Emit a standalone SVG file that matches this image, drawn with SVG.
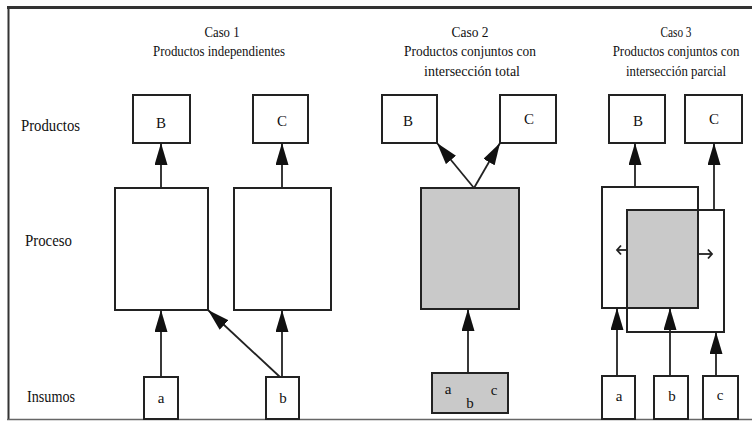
<svg xmlns="http://www.w3.org/2000/svg" width="752" height="421" viewBox="0 0 752 421">
  <defs>
    <marker id="head" viewBox="0 0 22 13" markerWidth="22" markerHeight="13" refX="22" refY="6.5" orient="auto" markerUnits="userSpaceOnUse">
      <path d="M0,0 L22,6.5 L0,13 z" fill="#111"/>
    </marker>
  </defs>
  <style>
    text { font-family: 'Liberation Serif', 'DejaVu Serif', serif; fill: #111; }
    .title { font-size: 15px; text-anchor: middle; }
    .row { font-size: 17px; }
    .lbl { font-size: 15px; text-anchor: middle; }
    .box { fill: #fff; stroke: #222; stroke-width: 2; }
    .gray { fill: #c9c9c9; stroke: #222; stroke-width: 2; }
    .edge { fill: none; stroke: #222; stroke-width: 1.8; }
    .arr { marker-end: url(#head); }
  </style>

  <!-- frame -->
  <g id="frame">
    <rect x="0" y="0" width="752" height="421" fill="#fff"/>
    <line x1="7" y1="7.5" x2="752" y2="7.5" stroke="#333" stroke-width="3"/>
    <line x1="8.5" y1="6" x2="8.5" y2="420" stroke="#333" stroke-width="2"/>
    <line x1="7" y1="419.5" x2="752" y2="419.5" stroke="#666" stroke-width="1.5"/>
  </g>

  <!-- row and column headings -->
  <g id="headings">
    <text class="row" x="21" y="131" textLength="59" lengthAdjust="spacingAndGlyphs">Productos</text>
    <text class="row" x="25" y="246" textLength="47" lengthAdjust="spacingAndGlyphs">Proceso</text>
    <text class="row" x="27" y="402" textLength="48" lengthAdjust="spacingAndGlyphs">Insumos</text>

    <text class="title" x="222" y="37" textLength="35" lengthAdjust="spacingAndGlyphs">Caso 1</text>
    <text class="title" x="219" y="56" textLength="132" lengthAdjust="spacingAndGlyphs">Productos independientes</text>

    <text class="title" x="470" y="37" textLength="37" lengthAdjust="spacingAndGlyphs">Caso 2</text>
    <text class="title" x="470" y="56" textLength="132" lengthAdjust="spacingAndGlyphs">Productos conjuntos con</text>
    <text class="title" x="472" y="76" textLength="96" lengthAdjust="spacingAndGlyphs">intersección total</text>

    <text class="title" x="676" y="37" textLength="31" lengthAdjust="spacingAndGlyphs">Caso 3</text>
    <text class="title" x="0" y="0" transform="translate(676,56) scale(0.86,1)">Productos conjuntos con</text>
    <text class="title" x="676" y="76" textLength="100" lengthAdjust="spacingAndGlyphs">intersección parcial</text>
  </g>

  <!-- Caso 1 -->
  <g id="c1-prod-b"><rect class="box" x="133" y="95" width="57" height="48"/><text class="lbl" x="161" y="128">B</text></g>
  <g id="c1-prod-c"><rect class="box" x="253" y="95" width="55" height="48"/><text class="lbl" x="282" y="126">C</text></g>
  <g id="c1-proc-1"><rect class="box" x="115" y="188" width="93" height="122"/></g>
  <g id="c1-proc-2"><rect class="box" x="234" y="188" width="97" height="122"/></g>
  <g id="c1-in-a"><rect class="box" x="144" y="377" width="34" height="42"/><text class="lbl" x="161" y="403">a</text></g>
  <g id="c1-in-b"><rect class="box" x="266" y="377" width="33" height="42"/><text class="lbl" x="283" y="403">b</text></g>

  <!-- Caso 2 -->
  <g id="c2-prod-b"><rect class="box" x="382" y="95" width="55" height="48"/><text class="lbl" x="408" y="126">B</text></g>
  <g id="c2-prod-c"><rect class="box" x="500" y="95" width="56" height="48"/><text class="lbl" x="529" y="124">C</text></g>
  <g id="c2-proc"><rect class="gray" x="421" y="188" width="98" height="121"/></g>
  <g id="c2-in-abc">
    <rect class="gray" x="432" y="373" width="76" height="40"/>
    <text class="lbl" x="448" y="394">a</text>
    <text class="lbl" x="470" y="408">b</text>
    <text class="lbl" x="494" y="395">c</text>
  </g>

  <!-- Caso 3 -->
  <g id="c3-prod-b"><rect class="box" x="609" y="95" width="56" height="48"/><text class="lbl" x="638" y="126">B</text></g>
  <g id="c3-prod-c"><rect class="box" x="685" y="95" width="57" height="48"/><text class="lbl" x="714" y="124">C</text></g>
  <g id="c3-proc">
    <rect x="602" y="187" width="96" height="121" fill="#fff"/>
    <rect x="627" y="210" width="97" height="122" fill="#fff"/>
    <rect x="627" y="210" width="71" height="98" fill="#c9c9c9"/>
    <rect x="602" y="187" width="96" height="121" fill="none" stroke="#222" stroke-width="2"/>
    <rect x="627" y="210" width="97" height="122" fill="none" stroke="#222" stroke-width="2"/>
  </g>
  <g id="c3-in-a"><rect class="box" x="602" y="376" width="33" height="43"/><text class="lbl" x="619" y="401">a</text></g>
  <g id="c3-in-b"><rect class="box" x="654" y="376" width="34" height="43"/><text class="lbl" x="672" y="401">b</text></g>
  <g id="c3-in-c"><rect class="box" x="703" y="376" width="35" height="43"/><text class="lbl" x="720" y="400">c</text></g>

  <!-- connectors -->
  <g id="connectors">
    <line class="edge arr" x1="161" y1="188" x2="161" y2="143"/>
    <line class="edge arr" x1="282" y1="188" x2="282" y2="143"/>
    <line class="edge arr" x1="161" y1="377" x2="161" y2="310"/>
    <line class="edge arr" x1="282" y1="377" x2="282" y2="310"/>
    <line class="edge arr" x1="280" y1="377" x2="208" y2="310"/>

    <line class="edge arr" x1="474" y1="188" x2="437" y2="143"/>
    <line class="edge arr" x1="474" y1="188" x2="500" y2="143"/>
    <line class="edge arr" x1="468" y1="373" x2="468" y2="309"/>

    <line class="edge arr" x1="635" y1="187" x2="635" y2="143"/>
    <line class="edge arr" x1="714" y1="210" x2="714" y2="143"/>
    <line class="edge arr" x1="617" y1="376" x2="617" y2="308"/>
    <line class="edge arr" x1="670" y1="376" x2="670" y2="308"/>
    <line class="edge arr" x1="716" y1="376" x2="716" y2="332"/>

    <line class="edge" x1="627" y1="250" x2="617" y2="250"/>
    <path class="edge" d="M621,245.5 L617,250 L621,254.5"/>
    <line class="edge" x1="698" y1="254" x2="712" y2="254"/>
    <path class="edge" d="M708,249.5 L712,254 L708,258.5"/>
  </g>
</svg>
